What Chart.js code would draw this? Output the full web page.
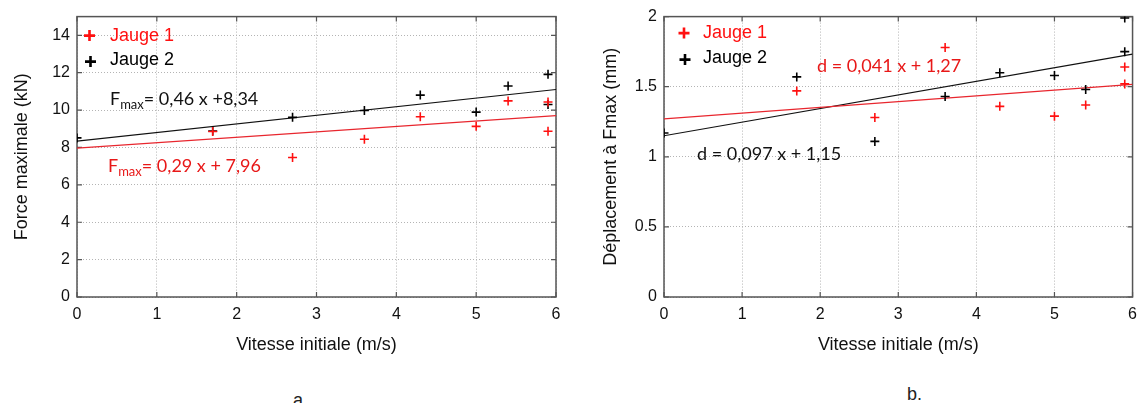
<!DOCTYPE html>
<html>
<head>
<meta charset="utf-8">
<script src="https://cdn.jsdelivr.net/npm/chart.js@4.4.1/dist/chart.umd.min.js"></script>
<style>
  body { margin: 0; background: #fff; width: 1145px; height: 403px; position: relative; overflow: hidden; font-family: "Liberation Sans", Arial, sans-serif; }
  .panel { position: absolute; top: 0; height: 360px; }
  #panelA { left: 0; width: 575px; }
  #panelB { left: 580px; width: 565px; }
  .cap { position: absolute; font-size: 18px; line-height: 18px; color: #222; }
</style>
</head>
<body>
<div class="panel" id="panelA"><canvas id="chartA"></canvas></div>
<div class="panel" id="panelB"><canvas id="chartB"></canvas></div>
<div class="cap" style="left:293px;top:391px">a.</div>
<div class="cap" style="left:907px;top:385px">b.</div>
<script>
// panel a: force maximale vs vitesse initiale
const speedsA1 = [1.7, 2.7, 3.6, 4.3, 5.0, 5.4, 5.9, 5.9];
const forceA1 = [8.85, 7.46, 8.44, 9.64, 9.13, 10.49, 10.43, 8.87];
const speedsA2 = [0, 1.7, 2.7, 3.6, 4.3, 5.0, 5.4, 5.9, 5.9];
const forceA2 = [8.51, 8.88, 9.61, 9.98, 10.80, 9.89, 11.29, 11.91, 10.30];
const fitSlopesA = [0.29, 0.46];
const fitInterceptsA = [7.96, 8.34];

// panel b: deplacement a Fmax vs vitesse initiale
const speedsB1 = [1.7, 2.7, 3.6, 4.3, 5.0, 5.4, 5.9, 5.9];
const dispB1 = [1.47, 1.28, 1.78, 1.36, 1.29, 1.37, 1.64, 1.52];
const speedsB2 = [0, 1.7, 2.7, 3.6, 4.3, 5.0, 5.4, 5.9, 5.9];
const dispB2 = [1.17, 1.57, 1.11, 1.43, 1.60, 1.58, 1.48, 1.99, 1.75];
const fitSlopesB = [0.041, 0.097];
const fitInterceptsB = [1.27, 1.15];

const seriesNames = ["Jauge 1", "Jauge 2"];
const xTicks = [0, 1, 2, 3, 4, 5, 6];
const yTicksA = [0, 2, 4, 6, 8, 10, 12, 14];
const yTicksB = [0, 0.5, 1, 1.5, 2];
const fitRange = [0, 6];

const RED = "#ff1010";
const BLACK = "#000000";

function toPoints(xs, ys) {
  return xs.map((x, i) => ({ x: x, y: ys[i] }));
}

function fitLine(slope, intercept) {
  return fitRange.map((x) => ({ x: x, y: slope * x + intercept }));
}

function drawCross(ctx, x, y, r, color, width) {
  ctx.save();
  ctx.strokeStyle = color;
  ctx.lineWidth = width;
  ctx.beginPath();
  ctx.moveTo(x - r, y); ctx.lineTo(x + r, y);
  ctx.moveTo(x, y - r); ctx.lineTo(x, y + r);
  ctx.stroke();
  ctx.restore();
}

// box around plot area with small inward ticks, matlab style
const framePlugin = {
  id: "frame",
  beforeDatasetsDraw(chart) {
    const { ctx, chartArea: a, scales } = chart;
    ctx.save();
    ctx.strokeStyle = "#555";
    ctx.lineWidth = 1.5;
    ctx.strokeRect(a.left, a.top, a.right - a.left, a.bottom - a.top);
    ctx.lineWidth = 1.2;
    ctx.beginPath();
    scales.y.ticks.forEach((t) => {
      const py = scales.y.getPixelForValue(t.value);
      ctx.moveTo(a.left, py); ctx.lineTo(a.left + 5, py);
      ctx.moveTo(a.right, py); ctx.lineTo(a.right - 5, py);
    });
    scales.x.ticks.forEach((t) => {
      const px = scales.x.getPixelForValue(t.value);
      ctx.moveTo(px, a.top); ctx.lineTo(px, a.top + 5);
      ctx.moveTo(px, a.bottom); ctx.lineTo(px, a.bottom - 5);
    });
    ctx.stroke();
    ctx.restore();
  },
};

// legend inside the plot + fit equations
const notesPlugin = {
  id: "notes",
  afterDraw(chart, args, opts) {
    const { ctx, chartArea: a } = chart;
    ctx.save();
    ctx.textBaseline = "middle";
    ctx.font = '18px "Liberation Sans", Arial, sans-serif';
    opts.legend.forEach((l, i) => {
      const color = i === 0 ? RED : BLACK;
      drawCross(ctx, a.left + l.cx, a.top + l.cy, 5.5, color, 2.6);
      ctx.fillStyle = color;
      ctx.fillText(seriesNames[i], a.left + l.tx, a.top + l.ty);
    });
    opts.equations.forEach((e) => {
      let x = a.left + e.x;
      const y = a.top + e.y;
      ctx.fillStyle = e.color;
      ctx.font = '18px Lato, "Open Sans", sans-serif';
      ctx.fillText(e.head, x, y);
      x += ctx.measureText(e.head).width;
      if (e.sub) {
        ctx.font = '13px Lato, "Open Sans", sans-serif';
        ctx.fillText(e.sub, x, y + 5);
        x += ctx.measureText(e.sub).width;
        ctx.font = '18px Lato, "Open Sans", sans-serif';
      }
      ctx.fillText(e.tail, x, y);
    });
    ctx.restore();
  },
};

function makePanel(canvasId, cfg) {
  const ctx = document.getElementById(canvasId).getContext("2d");
  return new Chart(ctx, {
    type: "scatter",
    data: {
      datasets: [
        {
          label: seriesNames[0],
          data: cfg.points1,
          pointStyle: "cross",
          pointRadius: 4.5,
          pointBorderWidth: 1.6,
          borderColor: RED,
          backgroundColor: RED,
        },
        {
          label: seriesNames[1],
          data: cfg.points2,
          pointStyle: "cross",
          pointRadius: 4.5,
          pointBorderWidth: 1.6,
          borderColor: BLACK,
          backgroundColor: BLACK,
        },
        {
          type: "line",
          data: cfg.fit1,
          borderColor: "#e8262e",
          borderWidth: 1.2,
          pointRadius: 0,
          fill: false,
        },
        {
          type: "line",
          data: cfg.fit2,
          borderColor: "#111",
          borderWidth: 1.2,
          pointRadius: 0,
          fill: false,
        },
      ],
    },
    options: {
      responsive: true,
      maintainAspectRatio: false,
      animation: false,
      layout: { padding: { top: 15, right: cfg.padRight, left: 0, bottom: 0 } },
      plugins: {
        legend: { display: false },
        tooltip: { enabled: false },
        notes: { legend: cfg.legend, equations: cfg.equations },
      },
      scales: {
        x: {
          type: "linear",
          min: 0,
          max: 6,
          afterBuildTicks: (scale) => { scale.ticks = xTicks.map((v) => ({ value: v })); },
          afterFit: (scale) => { scale.height = 63; },
          ticks: { padding: 8, color: "#111", font: { size: 16, family: '"Liberation Sans", Arial' } },
          grid: { color: "#b4b4b4", lineWidth: 1, drawTicks: false },
          border: { display: false, dash: [1, 2] },
          title: {
            display: true,
            text: "Vitesse initiale (m/s)",
            color: "#111",
            font: { size: 18, family: '"Liberation Sans", Arial' },
            padding: { top: 0, bottom: 4 },
          },
        },
        y: {
          type: "linear",
          min: 0,
          max: cfg.yMax,
          afterBuildTicks: (scale) => { scale.ticks = cfg.yTicks.map((v) => ({ value: v })); },
          afterFit: (scale) => { scale.width = cfg.yWidth; },
          ticks: {
            padding: 7,
            color: "#111",
            font: { size: 16, family: '"Liberation Sans", Arial' },
            callback: (v) => String(v),
          },
          grid: { color: "#b4b4b4", lineWidth: 1, drawTicks: false },
          border: { display: false, dash: [1, 2] },
          title: {
            display: true,
            text: cfg.yTitle,
            color: "#111",
            font: { size: 18, family: '"Liberation Sans", Arial' },
            padding: { top: cfg.yTitlePad, bottom: 0 },
          },
        },
      },
    },
    plugins: [framePlugin, notesPlugin],
  });
}

makePanel("chartA", {
  points1: toPoints(speedsA1, forceA1),
  points2: toPoints(speedsA2, forceA2),
  fit1: fitLine(fitSlopesA[0], fitInterceptsA[0]),
  fit2: fitLine(fitSlopesA[1], fitInterceptsA[1]),
  yMax: 15,
  yTicks: yTicksA,
  yWidth: 77,
  yTitle: "Force maximale (kN)",
  yTitlePad: 11,
  padRight: 19,
  legend: [
    { cx: 12.5, cy: 19, tx: 33, ty: 19 },
    { cx: 13.5, cy: 45, tx: 33, ty: 43 },
  ],
  equations: [
    { x: 33, y: 83, color: "#111", head: "F", sub: "max", tail: "= 0,46 x +8,34" },
    { x: 31, y: 150, color: "#e81818", head: "F", sub: "max", tail: "= 0,29 x + 7,96" },
  ],
});

makePanel("chartB", {
  points1: toPoints(speedsB1, dispB1),
  points2: toPoints(speedsB2, dispB2),
  fit1: fitLine(fitSlopesB[0], fitInterceptsB[0]),
  fit2: fitLine(fitSlopesB[1], fitInterceptsB[1]),
  yMax: 2,
  yTicks: yTicksB,
  yWidth: 84,
  yTitle: "Déplacement à Fmax (mm)",
  yTitlePad: 20,
  padRight: 8,
  legend: [
    { cx: 20, cy: 16.5, tx: 39, ty: 16.5 },
    { cx: 21, cy: 43, tx: 39, ty: 41 },
  ],
  equations: [
    { x: 153, y: 50, color: "#e81818", head: "d = 0,041 x + 1,27", sub: "", tail: "" },
    { x: 33, y: 138, color: "#111", head: "d = 0,097 x + 1,15", sub: "", tail: "" },
  ],
});
</script>
</body>
</html>
